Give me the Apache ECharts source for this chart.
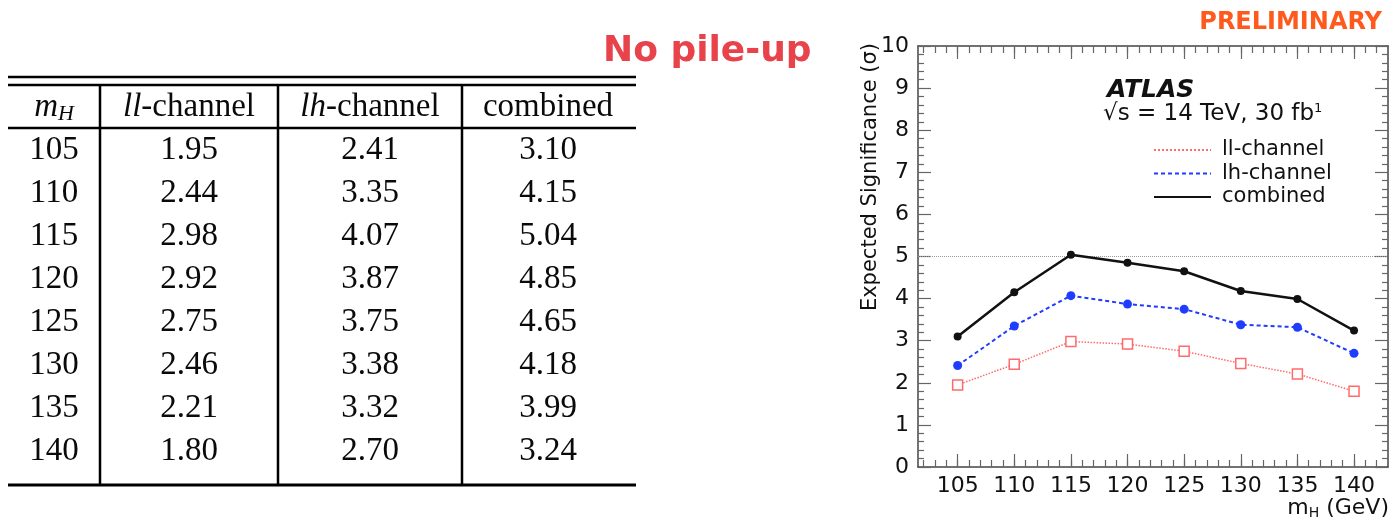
<!DOCTYPE html>
<html>
<head>
<meta charset="utf-8">
<script src="https://cdn.jsdelivr.net/npm/echarts@6.0.0/dist/echarts.min.js"></script>
<style>
html,body{margin:0;padding:0;background:#fff;}
#chart{width:1395px;height:523px;}
</style>
</head>
<body>
<div id="chart"></div>
<script>
// ---- data ----
const massPoints = [105, 110, 115, 120, 125, 130, 135, 140];
const llValues = [1.95, 2.44, 2.98, 2.92, 2.75, 2.46, 2.21, 1.80];
const lhValues = [2.41, 3.35, 4.07, 3.87, 3.75, 3.38, 3.32, 2.70];
const combinedValues = [3.10, 4.15, 5.04, 4.85, 4.65, 4.18, 3.99, 3.24];
const seriesNames = ['ll-channel', 'lh-channel', 'combined'];
const tableHeaders = ['{i|m}{s|H}', '{i|ll}-channel', '{i|lh}-channel', 'combined'];
const xMajorTicks = [105, 110, 115, 120, 125, 130, 135, 140];
const xMinorTicks = [102, 103, 104, 105, 106, 107, 108, 109, 110, 111, 112, 113, 114, 115, 116, 117, 118, 119, 120, 121, 122, 123, 124, 125, 126, 127, 128, 129, 130, 131, 132, 133, 134, 135, 136, 137, 138, 139, 140, 141, 142];
const referenceLevel = 5;

// ---- layout / style ----
const SANS = 'DejaVu Sans';
const SERIF = 'Liberation Serif';
const chart = echarts.init(document.getElementById('chart'), null, {renderer: 'canvas'});

// table graphic
const g = [];
const tLeft = 8, tRight = 636;
const colLines = [100, 278, 462];
const colCenters = [54, 189, 370, 548];
const headerY = 107, rowY0 = 150, rowStep = 43;
function hline(y, w) {
  g.push({type: 'line', shape: {x1: tLeft, y1: y, x2: tRight, y2: y}, style: {stroke: '#000', lineWidth: w}});
}
hline(77, 2.5);
hline(85, 2.5);
hline(128, 2.5);
hline(485, 3);
colLines.forEach(x => g.push({type: 'line', shape: {x1: x, y1: 85, x2: x, y2: 485}, style: {stroke: '#000', lineWidth: 2.5}}));
const richT = {
  i: {fontFamily: SERIF, fontSize: 33, fontStyle: 'italic', fill: '#0a0a0a', color: '#0a0a0a'},
  s: {fontFamily: SERIF, fontSize: 22, fontStyle: 'italic', fill: '#0a0a0a', color: '#0a0a0a', verticalAlign: 'bottom', padding: [14, 0, 0, 0]}
};
tableHeaders.forEach((h, c) => g.push({
  type: 'text', x: colCenters[c], y: headerY,
  style: {text: h, rich: richT, fontFamily: SERIF, fontSize: 33, fill: '#0a0a0a',
    align: 'center', textAlign: 'center', verticalAlign: 'middle', textVerticalAlign: 'middle'}
}));
massPoints.forEach((m, r) => {
  const vals = [String(m), llValues[r].toFixed(2), lhValues[r].toFixed(2), combinedValues[r].toFixed(2)];
  vals.forEach((v, c) => g.push({
    type: 'text', x: colCenters[c], y: rowY0 + r * rowStep,
    style: {text: v, fontFamily: SERIF, fontSize: 33, fill: '#0a0a0a',
      align: 'center', textAlign: 'center', verticalAlign: 'middle', textVerticalAlign: 'middle'}
  }));
});
// headings / annotations
g.push({type: 'text', x: 603, y: 52, style: {text: 'No pile-up', fontFamily: SANS, fontWeight: 'bold', fontSize: 36, fill: '#e8424a', align: 'left', textAlign: 'left', verticalAlign: 'middle', textVerticalAlign: 'middle'}});
g.push({type: 'text', x: 1382, y: 23, style: {text: 'PRELIMINARY', fontFamily: SANS, fontWeight: 'bold', fontSize: 24, fill: '#ff5a1e', align: 'right', textAlign: 'right', verticalAlign: 'middle', textVerticalAlign: 'middle'}});
g.push({type: 'text', x: 871, y: 43, rotation: Math.PI / 2, style: {text: 'Expected Significance (σ)', fontFamily: SANS, fontSize: 21, fill: '#111', align: 'right', textAlign: 'right', verticalAlign: 'middle', textVerticalAlign: 'middle'}});
g.push({type: 'text', x: 1107, y: 90, style: {text: 'ATLAS', fontFamily: SANS, fontWeight: 'bold', fontStyle: 'italic', fontSize: 25, fill: '#111', align: 'left', textAlign: 'left', verticalAlign: 'middle', textVerticalAlign: 'middle'}});
g.push({type: 'text', x: 1103, y: 114, style: {
  text: '{a|√s = 14 TeV, 30 fb}{p|1}',
  rich: {a: {fontFamily: SANS, fontSize: 23, fill: '#111', color: '#111'}, p: {fontFamily: SANS, fontSize: 13, fill: '#111', color: '#111', verticalAlign: 'top', padding: [0, 0, 8, 0]}},
  align: 'left', textAlign: 'left', verticalAlign: 'middle', textVerticalAlign: 'middle'}});
g.push({type: 'text', x: 1389, y: 508, style: {
  text: '{a|m}{b|H}{a| (GeV)}',
  rich: {a: {fontFamily: SANS, fontSize: 22, fill: '#111', color: '#111'}, b: {fontFamily: SANS, fontSize: 14, fill: '#111', color: '#111', verticalAlign: 'bottom', padding: [10, 0, 0, 0]}},
  align: 'right', textAlign: 'right', verticalAlign: 'middle', textVerticalAlign: 'middle'}});

const axisLineStyle = {color: '#444', width: 1.5};
const tickStyle = {color: '#666', width: 1.2};
function xAx(pos, major, withLabel) {
  return {
    type: 'value', position: pos, min: 101.5, max: 143,
    axisLine: {show: major, onZero: false, lineStyle: axisLineStyle},
    axisTick: {show: true, inside: true, length: major ? 13 : 7, customValues: major ? xMajorTicks : xMinorTicks, lineStyle: tickStyle},
    axisLabel: withLabel ? {show: true, customValues: xMajorTicks, fontFamily: SANS, fontSize: 22, color: '#111', margin: 8} : {show: false},
    splitLine: {show: false}
  };
}
function yAx(pos, withLabel) {
  return {
    type: 'value', position: pos, min: 0, max: 10, interval: 1,
    axisLine: {show: true, onZero: false, lineStyle: axisLineStyle},
    axisTick: {show: true, inside: true, length: 13, lineStyle: tickStyle},
    minorTick: {show: true, splitNumber: 5, length: 6, lineStyle: tickStyle},
    axisLabel: withLabel ? {show: true, fontFamily: SANS, fontSize: 22, color: '#111', margin: 9} : {show: false},
    splitLine: {show: false}, minorSplitLine: {show: false}
  };
}

const option = {
  animation: false,
  backgroundColor: '#fff',
  grid: {left: 918, top: 46, right: 7, bottom: 56, containLabel: false},
  xAxis: [xAx('bottom', true, true), xAx('bottom', false, false), xAx('top', true, false), xAx('top', false, false)],
  yAxis: [yAx('left', true), yAx('right', false)],
  legend: {
    orient: 'vertical', left: 1148, top: 134,
    itemWidth: 57, itemHeight: 14, itemGap: 1.5,
    data: seriesNames,
    itemStyle: {color: 'transparent', borderColor: 'transparent', borderWidth: 0},
    textStyle: {fontFamily: SANS, fontSize: 21, color: '#111', padding: [0, 0, 0, 6], lineHeight: 22}
  },
  series: [
    {
      name: seriesNames[0], type: 'line', xAxisIndex: 0, yAxisIndex: 0, z: 3,
      data: massPoints.map((m, i) => [m, llValues[i]]),
      symbol: 'rect', symbolSize: 10,
      lineStyle: {color: '#ff6b6b', width: 1.5, type: 'dotted'},
      itemStyle: {color: '#fff', borderColor: '#ff6b6b', borderWidth: 1.5},
      markLine: {
        silent: true, symbol: 'none', label: {show: false},
        lineStyle: {color: '#999', width: 1, type: 'dotted'},
        data: [{yAxis: referenceLevel}]
      }
    },
    {
      name: seriesNames[1], type: 'line', xAxisIndex: 0, yAxisIndex: 0, z: 4,
      data: massPoints.map((m, i) => [m, lhValues[i]]),
      symbol: 'circle', symbolSize: 9,
      lineStyle: {color: '#1f3cff', width: 2, type: [4, 3]},
      itemStyle: {color: '#1f3cff'}
    },
    {
      name: seriesNames[2], type: 'line', xAxisIndex: 0, yAxisIndex: 0, z: 5,
      data: massPoints.map((m, i) => [m, combinedValues[i]]),
      symbol: 'circle', symbolSize: 8,
      lineStyle: {color: '#111', width: 2.5, type: 'solid'},
      itemStyle: {color: '#111'}
    }
  ],
  graphic: {elements: g}
};
chart.setOption(option);
</script>
</body>
</html>
